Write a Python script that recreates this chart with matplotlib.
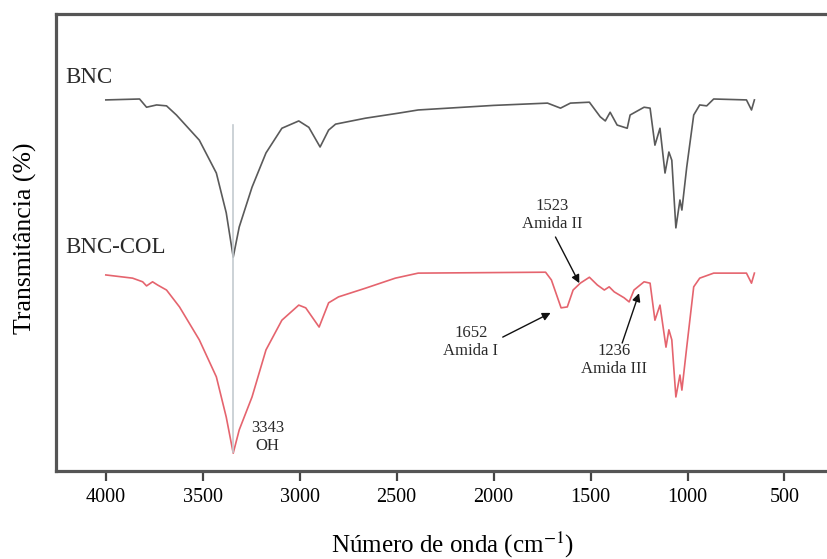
import matplotlib
matplotlib.use("Agg")
import matplotlib.pyplot as plt

plt.rcParams['font.family'] = ['Liberation Serif', 'DejaVu Serif']
plt.rcParams['mathtext.fontset'] = 'stix'

# Wavenumbers (cm^-1) and transmittance (arbitrary, offset)
bnc_wn = [4000, 3826, 3790, 3738, 3687, 3636, 3518, 3430, 3379, 3343, 3312, 3246,
          3174, 3092, 3005, 2953, 2895, 2851, 2815, 2661, 2491, 2389, 2000, 1722,
          1655, 1604, 1506, 1450, 1424, 1399, 1363, 1311, 1296, 1224, 1193, 1168,
          1142, 1116, 1096, 1081, 1060, 1039, 1029, 1004, 968, 937, 901, 865,
          696, 670, 655]
bnc_t = [81.2, 81.4, 79.6, 80.1, 79.9, 77.9, 72.4, 65.2, 56.5, 46.8, 53.4, 62.1,
         69.6, 75.0, 76.6, 75.2, 70.9, 74.6, 75.9, 77.2, 78.3, 79.0, 80.0, 80.5,
         79.4, 80.5, 80.7, 77.5, 76.6, 78.5, 75.7, 75.0, 77.9, 79.6, 79.4, 71.3,
         75.0, 65.2, 69.8, 68.0, 53.2, 59.3, 57.1, 66.5, 77.9, 80.1, 79.9, 81.4,
         81.2, 79.0, 81.2]

col_wn = [4000, 3862, 3810, 3790, 3759, 3733, 3687, 3620, 3518, 3430, 3379, 3343,
          3312, 3246, 3174, 3092, 3005, 2969, 2900, 2851, 2800, 2661, 2507, 2389,
          1732, 1702, 1652, 1620, 1590, 1553, 1506, 1465, 1429, 1404, 1378,
          1327, 1301, 1276, 1224, 1193, 1168, 1142, 1111, 1096, 1081, 1060, 1039,
          1029, 1004, 968, 937, 865, 696, 670, 655]
col_t = [42.9, 42.2, 41.4, 40.5, 41.4, 40.7, 39.6, 35.9, 28.7, 20.6, 11.8, 3.9,
         9.0, 16.2, 26.5, 33.0, 36.3, 35.7, 31.5, 36.8, 38.1, 40.0, 42.2, 43.3,
         43.5, 41.8, 35.7, 35.9, 39.6, 41.1, 42.4, 40.7, 39.6, 40.3, 39.2,
         37.9, 37.0, 39.6, 41.4, 41.1, 33.0, 36.3, 27.1, 30.9, 28.7, 16.2, 21.0,
         17.7, 27.1, 40.3, 42.2, 43.3, 43.3, 41.1, 43.3]

xticks = [4000, 3500, 3000, 2500, 2000, 1500, 1000, 500]

fig = plt.figure(figsize=(8.28, 5.59), dpi=100)
ax_w = 1 - 56/828 + 0.02
ax = fig.add_axes([56/828, 1 - 471/559, ax_w, (471 - 14)/559])

ax.plot(bnc_wn, bnc_t, color='#5a5a5a', lw=1.2)
ax.plot(col_wn, col_t, color='#e5646e', lw=1.2)
ax.plot([3343, 3343], [4.2, 75.7], color='#c4cbd0', lw=1.2)

ax.set_xlim(4257, 190)
ax.set_ylim(0, 100)
ax.set_xticks(xticks)
ax.set_xticklabels([str(v) for v in xticks], fontsize=14.5)
ax.set_yticks([])
ax.tick_params(axis='x', direction='out', length=7, width=1.6, color='#444', pad=5)

for side in ['left', 'top', 'bottom']:
    ax.spines[side].set_color('#555555')
    ax.spines[side].set_linewidth(2.3)
ax.spines['right'].set_visible(False)

ax.set_xlabel('Número de onda (cm$^{-1}$)', fontsize=18)
ax.xaxis.set_label_coords((453 - 56) / (828 * ax_w), -0.128)
ax.set_ylabel('Transmitância (%)', fontsize=18.5)
ax.yaxis.set_label_coords((37 - 56) / (828 * ax_w), 0.51)

ax.text(4210, 86.2, 'BNC', fontsize=16.5, va='center', ha='left', color='#2a2a2a')
ax.text(4210, 49.0, 'BNC-COL', fontsize=16.5, va='center', ha='left', color='#2a2a2a')
ax.text(3251, 7.4, '3343\nOH', fontsize=12, va='center', ha='left',
        multialignment='center', color='#2a2a2a')
ax.text(1696, 56.0, '1523\nAmida II', fontsize=12, va='center', ha='center', color='#2a2a2a')
ax.text(2117, 28.2, '1652\nAmida I', fontsize=12, va='center', ha='center', color='#2a2a2a')
ax.text(1378, 24.3, '1236\nAmida III', fontsize=12, va='center', ha='center', color='#2a2a2a')

arrow = dict(arrowstyle='-|>', color='#111', lw=1.0, mutation_scale=12,
             shrinkA=0, shrinkB=0)
ax.annotate('', xy=(1558, 41.1), xytext=(1681, 51.2), arrowprops=arrow)
ax.annotate('', xy=(1706, 34.6), xytext=(1953, 29.3), arrowprops=arrow)
ax.annotate('', xy=(1250, 38.9), xytext=(1337, 28.0), arrowprops=arrow)

fig.savefig('out.png', dpi=100)
